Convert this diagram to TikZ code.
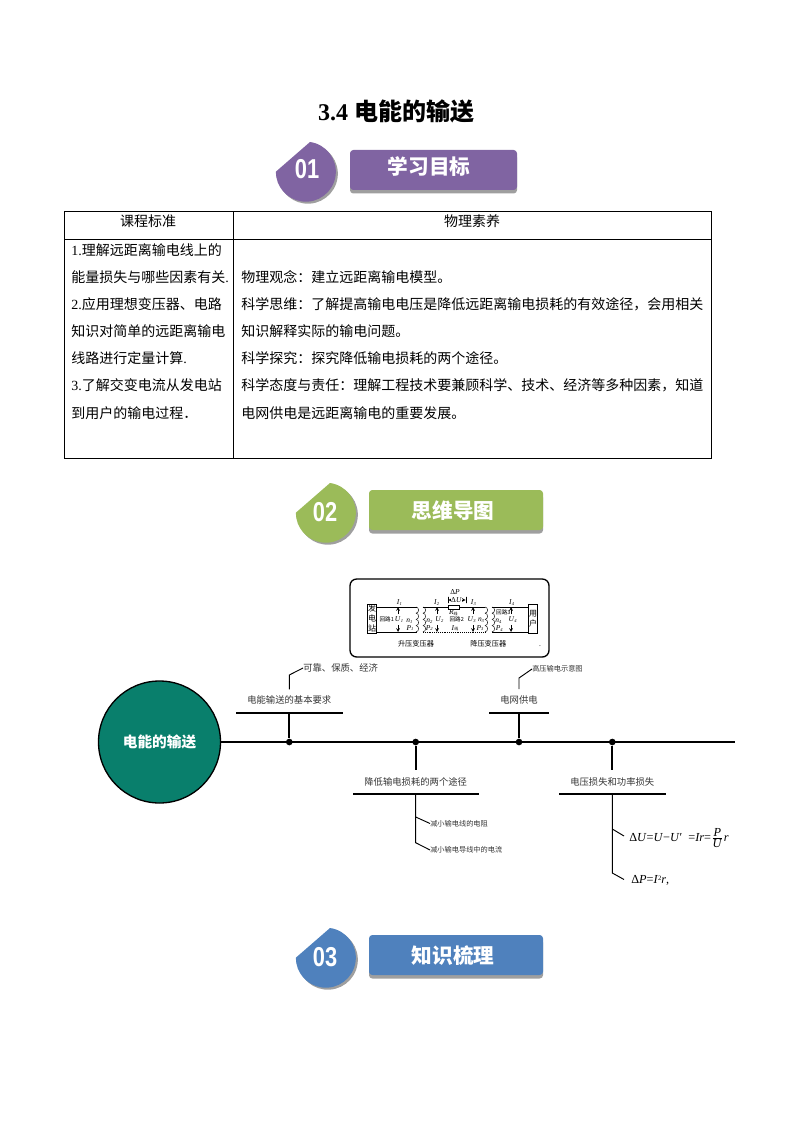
\documentclass[tikz,border=0pt]{standalone}
\usepackage{fontspec}
\setmainfont{Liberation Serif}
\newfontfamily\cjk{Noto Sans CJK SC}
\newfontfamily\headnum{Liberation Sans}
\definecolor{headpurple}{HTML}{8064A2}
\definecolor{headgreen}{HTML}{9BBB59}
\definecolor{headblue}{HTML}{4F81BD}
\definecolor{hubteal}{HTML}{097F6C}
\definecolor{maptext}{HTML}{333333}
\tikzset{
  bannertext/.style={text=white, inner sep=0pt, font=\cjk\bfseries\fontsize{15.5}{17}\selectfont},
  badgetext/.style={text=white, inner sep=0pt, xscale=0.8, font=\headnum\bfseries\fontsize{20.5}{22}\selectfont},
  tabletext/.style={anchor=west, inner sep=0pt, font=\fontsize{10.5}{12}\selectfont\cjk},
  headtext/.style={inner sep=0pt, font=\cjk\fontsize{10.5}{12}\selectfont},
  maplabel/.style={inner sep=0pt, text=maptext, font=\cjk\fontsize{7}{8}\selectfont},
  mapsmall/.style={anchor=west, inner sep=0pt, text=maptext, font=\cjk\fontsize{5.4}{6}\selectfont},
  trunk/.style={line width=1.4pt},
  twig/.style={line width=0.7pt},
  dot/.style={circle, fill=black, inner sep=0pt, minimum size=5},
  cirtext/.style={inner sep=0pt, font=\fontsize{5.6}{6}\selectfont},
  circjk/.style={inner sep=0pt, font=\cjk\fontsize{4.2}{5}\selectfont},
  formula/.style={anchor=west, inner sep=0pt, font=\fontsize{9.2}{11}\selectfont},
}
\newcommand{\coilat}[1]{
  \foreach \k in {0,...,3}
    \draw[line width=0.35pt] (#1,607+6.2*\k) .. controls (#1+3.4,607+6.2*\k) and (#1+3.4,613.2+6.2*\k) .. (#1,613.2+6.2*\k);
}
\newcommand{\cirsym}[2]{\textit{#1}\raisebox{-0.6pt}{\fontsize{3.4}{4}\selectfont\textit{#2}}}
\newcommand{\linesym}[1]{\textit{#1}\raisebox{-0.6pt}{\cjk\fontsize{3}{4}\selectfont 线}}
\begin{document}
\begin{tikzpicture}[x=0.75pt,y=-0.75pt]
  \useasboundingbox (0,0) rectangle (794,1123);

  \node[inner sep=0pt, font=\bfseries\fontsize{18}{20}\selectfont] (title) at (396,111) {3.4 {\cjk 电能的输送}};

  % section heads
  \foreach \cx/\cy/\nx/\ny/\bl/\br/\bt/\bb/\tx/\ty/\col/\num/\txt in {
      306/172/307/169/350/517/150/190/429/167/headpurple/01/学习目标,
      326/513/325/512/369/543/490/530/453/511/headgreen/02/思维导图,
      326/958/325/957/369/543/935/975/453/956/headblue/03/知识梳理} {
    \fill[gray!75] ([shift={(\cx+2,\cy+2)}]4,-30) arc[start angle=82, end angle=-180, radius=30*0.75pt] -- cycle;
    \fill[\col] ([shift={(\cx,\cy)}]4,-30) arc[start angle=82, end angle=-180, radius=30*0.75pt] -- cycle;
    \node[badgetext] (num\num) at (\nx,\ny) {\num};
    \fill[gray!75, rounded corners=2.5pt] (\bl,\bt+4) rectangle (\br,\bb+3.5);
    \fill[\col, rounded corners=2.5pt] (\bl,\bt) rectangle (\br,\bb);
    \node[bannertext] (head\num) at (\tx,\ty) {\txt};
  }

  % table
  \draw[line width=0.6pt] (64.5,211.5) rectangle (711.5,458);
  \draw[line width=0.6pt] (64.5,239) -- (711.5,239);
  \draw[line width=0.6pt] (233.5,211.5) -- (233.5,458);
  \node[headtext] (lefthead) at (148,221) {课程标准};
  \node[headtext] (righthead) at (472,221) {物理素养};

  \node[tabletext] (l1) at (71,250) {{\rmfamily 1.}理解远距离输电线上的};
  \node[tabletext] (l2) at (71,277) {能量损失与哪些因素有关{\rmfamily .}};
  \node[tabletext] (l3) at (71,304) {{\rmfamily 2.}应用理想变压器、电路};
  \node[tabletext] (l4) at (71,331) {知识对简单的远距离输电};
  \node[tabletext] (l5) at (71,358) {线路进行定量计算{\rmfamily .}};
  \node[tabletext] (l6) at (71,385) {{\rmfamily 3.}了解交变电流从发电站};
  \node[tabletext] (l7) at (71,413) {到用户的输电过程．};

  \node[tabletext] (r1) at (241,277) {物理观念：建立远距离输电模型。};
  \node[tabletext] (r2) at (241,304) {科学思维：了解提高输电电压是降低远距离输电损耗的有效途径，会用相关};
  \node[tabletext] (r3) at (241,331) {知识解释实际的输电问题。};
  \node[tabletext] (r4) at (241,358) {科学探究：探究降低输电损耗的两个途径。};
  \node[tabletext] (r5) at (241,385) {科学态度与责任：理解工程技术要兼顾科学、技术、经济等多种因素，知道};
  \node[tabletext] (r6) at (241,413) {电网供电是远距离输电的重要发展。};

  % transmission figure
  \draw[line width=1pt, rounded corners=5pt] (350,579) rectangle (549,657);
  \draw[line width=0.4pt] (367.3,604) rectangle (376.7,633.5);
  \draw[line width=0.4pt] (528.3,604) rectangle (537.7,633.5);
  \node[circjk, font=\cjk\fontsize{6}{7.5}\selectfont, align=center] (station) at (372,618.8) {发\\电\\站};
  \node[circjk, font=\cjk\fontsize{6}{7.5}\selectfont, align=center] (user) at (533,618.8) {用\\户};
  \draw[line width=0.4pt] (376.7,607) -- (417,607);
  \draw[line width=0.4pt] (376.7,632) -- (417,632);
  \draw[line width=0.4pt] (423,607) -- (448,607) (459,607) -- (485,607);
  \draw[line width=0.4pt, densely dotted] (423,632) -- (485,632);
  \draw[line width=0.4pt] (492,607) -- (528.3,607);
  \draw[line width=0.4pt] (492,632) -- (528.3,632);
  \draw[line width=0.4pt] (448,605) rectangle (459,609.3);
  \coilat{416}
  \coilat{423}
  \coilat{485}
  \coilat{492}
  \foreach \ax in {398,437,473,511} {
    \draw[line width=0.3pt, ->, >=stealth] (\ax,614) -- (\ax,607);
    \draw[line width=0.3pt, ->, >=stealth] (\ax,625) -- (\ax,632);
  }
  \draw[line width=0.3pt, |<->|, >=stealth] (448,600) -- (466,600);
  \node[cirtext, fill=white, inner xsep=0.5pt] (du) at (456.5,600) {Δ\textit{U}};
  \node[cirtext] (dp) at (455,591.7) {Δ\textit{P}};
  \node[cirtext] (i1) at (399.3,602.3) {\cirsym{I}{1}};
  \node[cirtext] (i2) at (436.7,602.7) {\cirsym{I}{2}};
  \node[cirtext] (i3) at (473.3,602.7) {\cirsym{I}{3}};
  \node[cirtext] (i4) at (511.7,602.7) {\cirsym{I}{4}};
  \node[cirtext] (u1) at (399,619.3) {\cirsym{U}{1}};
  \node[cirtext] (u2) at (439.3,619.3) {\cirsym{U}{2}};
  \node[cirtext] (u3) at (471.7,619.3) {\cirsym{U}{3}};
  \node[cirtext] (u4) at (512.7,619.3) {\cirsym{U}{4}};
  \node[cirtext] (n1) at (409.3,621) {\cirsym{n}{1}};
  \node[cirtext] (n2) at (429.3,621) {\cirsym{n}{2}};
  \node[cirtext] (n3) at (481,620) {\cirsym{n}{3}};
  \node[cirtext] (n4) at (498.3,621) {\cirsym{n}{4}};
  \node[cirtext] (p1) at (410,628) {\cirsym{P}{1}};
  \node[cirtext] (p2) at (429.3,628) {\cirsym{P}{2}};
  \node[cirtext] (p3) at (480,628) {\cirsym{P}{3}};
  \node[cirtext] (p4) at (499.3,628.3) {\cirsym{P}{4}};
  \node[cirtext] (rline) at (453.3,612.7) {\linesym{R}};
  \node[cirtext] (iline) at (455,628.3) {\linesym{I}};
  \node[circjk] (loop1) at (386.7,619.3) {回路1};
  \node[circjk] (loop2) at (456.7,619.3) {回路2};
  \node[circjk] (loop3) at (503.3,612.7) {回路3};
  \node[circjk, font=\cjk\fontsize{5.4}{6}\selectfont] (stepup) at (416,644) {升压变压器};
  \node[circjk, font=\cjk\fontsize{5.4}{6}\selectfont] (stepdown) at (488.3,644) {降压变压器};
  \node[cirtext] (stop) at (540,646) {.};

  % mind map
  \node[circle, draw=black, line width=1pt, fill=hubteal, minimum size=91.5, inner sep=0pt, text=white, font=\cjk\bfseries\fontsize{11}{13}\selectfont] (hub) at (159.5,742) {电能的输送};
  \coordinate (trunkend) at (735,742);
  \draw[trunk] (hub) -- (trunkend);
  \node[dot] (da) at (289.3,742) {};
  \node[dot] (db) at (415.7,742) {};
  \node[dot] (dc) at (519,742) {};
  \node[dot] (dd) at (612.3,742) {};

  % upper branch, left
  \node[maplabel] (basic) at (289.3,700) {电能输送的基本要求};
  \coordinate (basicl) at (236,712.7);
  \coordinate (basicr) at (343,712.7);
  \coordinate (basicm) at (289.3,712.7);
  \draw[trunk] (basicl) -- (basicr);
  \draw[trunk] (da) -- (basicm);
  \node[anchor=west, inner sep=0pt, text=maptext, font=\cjk\fontsize{7}{9}\selectfont] (reliable) at (303,668) {可靠、保质、经济};
  \coordinate (basicup) at (289.3,689.3);
  \coordinate (basicbend) at (289.3,675);
  \draw[twig] (basicup) -- (basicbend) -- (reliable.west);

  % lower branch, left
  \node[maplabel] (ways) at (415.7,781.5) {降低输电损耗的两个途径};
  \coordinate (waysl) at (353,794);
  \coordinate (waysr) at (478.7,794);
  \coordinate (waysm) at (415.7,794);
  \coordinate (waystop) at (415.7,770);
  \draw[trunk] (waysl) -- (waysr);
  \draw[trunk] (db) -- (waystop);
  \node[mapsmall] (wayone) at (430,823.5) {减小输电线的电阻};
  \node[mapsmall] (waytwo) at (430,850) {减小输电导线中的电流};
  \coordinate (waybendone) at (415.7,817);
  \coordinate (waybendtwo) at (415.7,842.7);
  \draw[twig] (waysm) -- (waybendtwo) -- (waytwo.west);
  \draw[twig] (waybendone) -- (wayone.west);

  % upper branch, right
  \node[maplabel] (grid) at (519,700) {电网供电};
  \coordinate (gridl) at (489,712.7);
  \coordinate (gridr) at (549,712.7);
  \coordinate (gridm) at (519,712.7);
  \draw[trunk] (gridl) -- (gridr);
  \draw[trunk] (dc) -- (gridm);
  \node[mapsmall] (gridnote) at (532,669) {高压输电示意图};
  \coordinate (gridup) at (519,689);
  \coordinate (gridbend) at (519,678);
  \draw[twig] (gridup) -- (gridbend) -- (gridnote.west);

  % lower branch, right
  \node[maplabel] (loss) at (612.3,781.5) {电压损失和功率损失};
  \coordinate (lossl) at (559,793.7);
  \coordinate (lossr) at (666,793.7);
  \coordinate (lossm) at (612.3,793.7);
  \coordinate (losstop) at (612.3,770);
  \draw[trunk] (lossl) -- (lossr);
  \draw[trunk] (dd) -- (losstop);
  \node[formula] (lossone) at (629,838) {Δ\textit{U}=\textit{U}−\textit{U}′\ \ =\textit{Ir}=$\frac{\mbox{\textit{P}}}{\mbox{\textit{U}}}$\textit{r}};
  \node[formula] (losstwo) at (631,880.5) {Δ\textit{P}=\textit{I}\raisebox{2.5pt}{\fontsize{5}{6}\selectfont 2}\textit{r},};
  \coordinate (lossbendone) at (612.3,829);
  \coordinate (lossbendtwo) at (612.3,873);
  \coordinate (losstipone) at (624,836);
  \coordinate (losstiptwo) at (624,879.5);
  \draw[twig] (lossm) -- (lossbendtwo) -- (losstiptwo);
  \draw[twig] (lossbendone) -- (losstipone);
\end{tikzpicture}
\end{document}
